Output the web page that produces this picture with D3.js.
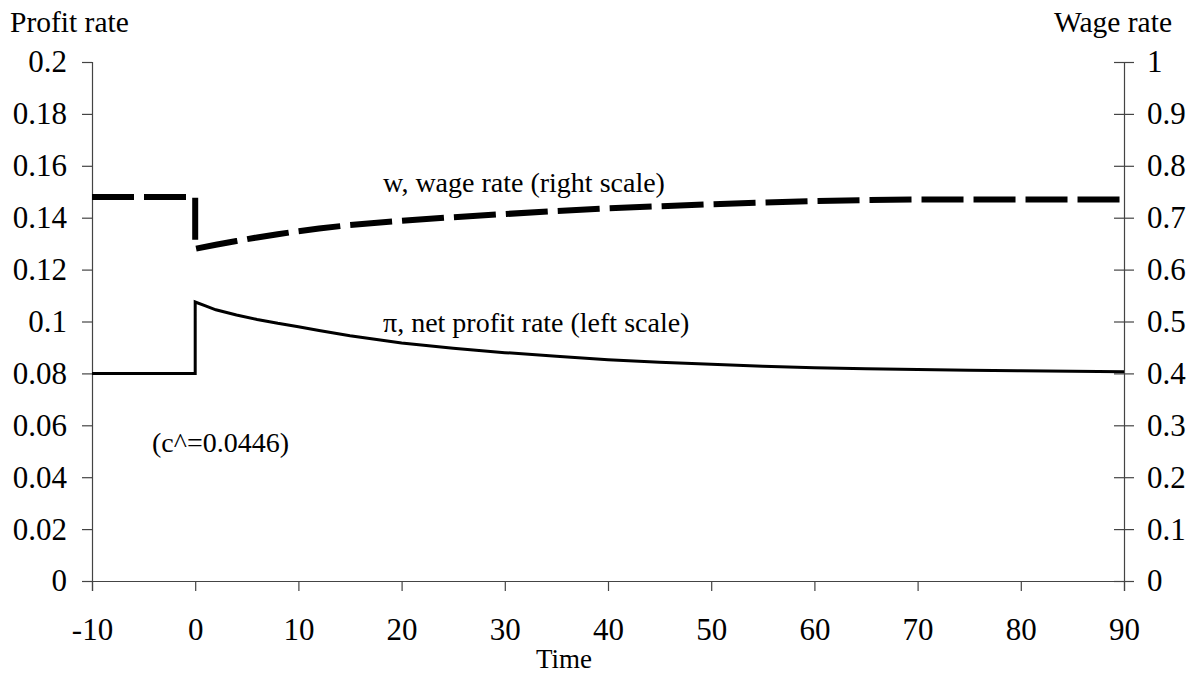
<!DOCTYPE html>
<html>
<head>
<meta charset="utf-8">
<script src="https://cdn.jsdelivr.net/npm/d3@7"></script>
<style>
  body { margin: 0; background: #fff; }
  svg text { font-family: "Liberation Serif", "Times New Roman", serif; fill: #000; }
</style>
</head>
<body>
<div id="chart"></div>
<script>
// data
const wageTime = [-10, 0, 0, 2, 4, 6, 8, 10, 12, 15, 20, 25, 30, 35, 40, 45, 50, 55, 60, 65, 70, 80, 90];
const wageRate = [0.74, 0.74, 0.64, 0.648, 0.655, 0.662, 0.668, 0.674, 0.679, 0.686, 0.694, 0.701, 0.707, 0.713, 0.718, 0.722, 0.726, 0.729, 0.732, 0.734, 0.735, 0.735, 0.735];

const profitTime = [-10, 0, 0, 1, 2, 4, 6, 8, 10, 12, 15, 20, 25, 30, 35, 40, 45, 50, 55, 60, 65, 70, 75, 80, 85, 90];
const profitRate = [0.08, 0.08, 0.1075, 0.106, 0.1045, 0.1025, 0.1008, 0.0993, 0.098, 0.0965, 0.0945, 0.0917, 0.0897, 0.088, 0.0866, 0.0853, 0.0843, 0.0835, 0.0828, 0.0822, 0.0818, 0.0815, 0.0812, 0.081, 0.0808, 0.0806];

const xTicks = [-10, 0, 10, 20, 30, 40, 50, 60, 70, 80, 90];
const leftTicks = [0, 0.02, 0.04, 0.06, 0.08, 0.1, 0.12, 0.14, 0.16, 0.18, 0.2];
const rightTicks = [0, 0.1, 0.2, 0.3, 0.4, 0.5, 0.6, 0.7, 0.8, 0.9, 1];

const width = 1196, height = 674;
const plotLeft = 92, plotRight = 1124, plotTop = 62, plotBottom = 581;

const svg = d3.select("#chart")
  .append("svg")
  .attr("width", width)
  .attr("height", height);

const x = d3.scaleLinear().domain([-10, 90]).range([plotLeft, plotRight]);
const yL = d3.scaleLinear().domain([0, 0.2]).range([plotBottom, plotTop]);
const yR = d3.scaleLinear().domain([0, 1]).range([plotBottom, plotTop]);

const axisColor = "#444";
const tickFont = "31px";

// left axis, ticks outward
const gL = svg.append("g")
  .attr("transform", `translate(${plotLeft},0)`)
  .call(d3.axisLeft(yL).tickValues(leftTicks).tickSize(10).tickPadding(15)
    .tickFormat((d) => String(+d.toFixed(2))));

// right axis, ticks cross the line
const gR = svg.append("g")
  .attr("transform", `translate(${plotRight},0)`)
  .call(d3.axisRight(yR).tickValues(rightTicks).tickSize(10).tickPadding(13)
    .tickFormat((d) => String(+d.toFixed(1))));
gR.selectAll(".tick line").attr("x1", -10);

// bottom axis
const gX = svg.append("g")
  .attr("transform", `translate(0,${plotBottom})`)
  .call(d3.axisBottom(x).tickValues(xTicks).tickSize(10).tickPadding(27)
    .tickFormat((d) => d));

[gL, gR, gX].forEach((g) => {
  g.attr("font-family", null).attr("font-size", null);
  g.select(".domain").attr("stroke", axisColor).attr("stroke-width", 1.2);
  g.selectAll(".tick line").attr("stroke", axisColor).attr("stroke-width", 1.2);
  g.selectAll(".tick text")
    .style("font-size", tickFont)
    .attr("fill", "#000");
});
gX.selectAll(".tick text").attr("dy", "0.71em");

// wage rate (right scale), thick dashed
const wagePts = wageTime.map((t, i) => [t, wageRate[i]]);
svg.append("path")
  .datum(wagePts)
  .attr("fill", "none")
  .attr("stroke", "#000")
  .attr("stroke-width", 6)
  .attr("stroke-dasharray", "42,10")
  .attr("d", d3.line().x((d) => x(d[0])).y((d) => yR(d[1])));

// net profit rate (left scale), solid
const profitPts = profitTime.map((t, i) => [t, profitRate[i]]);
svg.append("path")
  .datum(profitPts)
  .attr("fill", "none")
  .attr("stroke", "#000")
  .attr("stroke-width", 3)
  .attr("d", d3.line().x((d) => x(d[0])).y((d) => yL(d[1])));

// titles and labels
svg.append("text").attr("x", 10).attr("y", 32)
  .style("font-size", "29.5px").text("Profit rate");
svg.append("text").attr("x", 1172).attr("y", 32)
  .attr("text-anchor", "end").style("font-size", "29.5px").text("Wage rate");
svg.append("text").attr("x", 564).attr("y", 668)
  .attr("text-anchor", "middle").style("font-size", "27px").text("Time");

svg.append("text").attr("x", 383).attr("y", 192)
  .style("font-size", "28px").text("w, wage rate (right scale)");
svg.append("text").attr("x", 383).attr("y", 332)
  .style("font-size", "28px").text("π, net profit rate (left scale)");
svg.append("text").attr("x", 152).attr("y", 452)
  .style("font-size", "28px").text("(c^=0.0446)");
</script>
</body>
</html>
